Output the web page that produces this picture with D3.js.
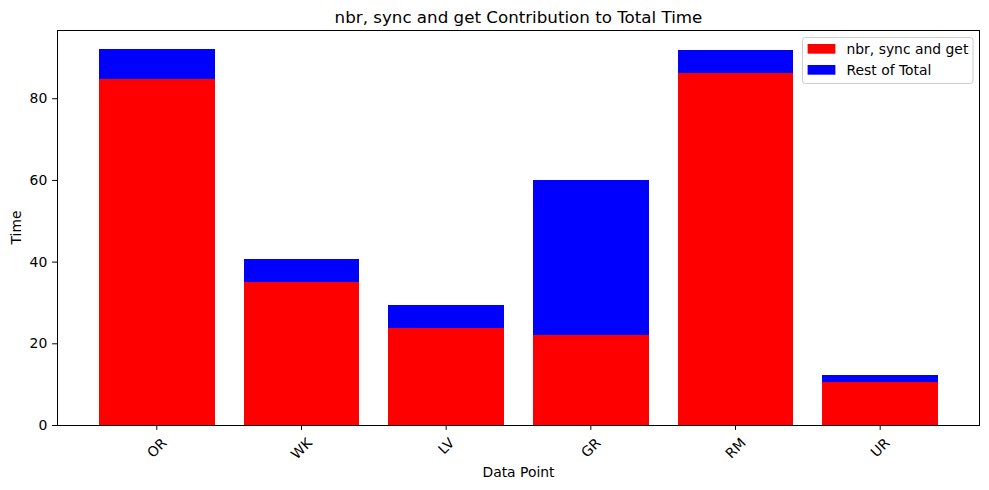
<!DOCTYPE html>
<html>
<head>
<meta charset="utf-8">
<script src="https://cdn.jsdelivr.net/npm/d3@7"></script>
<style>
  html, body { margin: 0; padding: 0; background: #fff; }
  svg { display: block; }
  text { font-family: "DejaVu Sans", sans-serif; fill: #000; }
</style>
</head>
<body>
<svg id="chart" width="989" height="490"></svg>
<script>
const categories = ["OR", "WK", "LV", "GR", "RM", "UR"];
const nbrSyncGet = [84.8, 35.0, 23.7, 22.0, 86.1, 10.6];
const restOfTotal = [7.3, 5.6, 5.7, 38.1, 5.7, 1.6];
const yTicks = [0, 20, 40, 60, 80];
const seriesNames = ["nbr, sync and get", "Rest of Total"];
const seriesColors = ["#ff0000", "#0000ff"];

const W = 989, H = 490;
const m = { left: 57, right: 980, top: 30, bottom: 425 };
const fs = 13.9;
const svg = d3.select("#chart");

const rows = categories.map((c, i) => ({ cat: c, a: nbrSyncGet[i], b: restOfTotal[i] }));
const stacked = d3.stack().keys(["a", "b"])(rows);
const maxTotal = d3.max(rows, d => d.a + d.b);

const x = d3.scaleBand().domain(categories).range([m.left, m.right])
  .paddingInner(0.2).paddingOuter(0.29);
const y = d3.scaleLinear().domain([0, maxTotal * 1.05]).range([m.bottom, m.top]);

// bars
stacked.forEach((s, si) => {
  svg.append("g").attr("fill", seriesColors[si])
    .selectAll("rect").data(s).join("rect")
    .attr("x", d => x(d.data.cat))
    .attr("width", x.bandwidth())
    .attr("y", d => y(d[1]))
    .attr("height", d => y(d[0]) - y(d[1]))
    .attr("shape-rendering", "crispEdges");
});

// axes
const tick = 4.86, pad = 4.86;
const yAxis = svg.append("g").attr("transform", `translate(${m.left},0)`)
  .call(d3.axisLeft(y).tickValues(yTicks).tickSize(tick).tickPadding(pad).tickFormat(d3.format("d")));
yAxis.select(".domain").remove();
yAxis.selectAll("line").attr("stroke", "#000").attr("stroke-width", 1);
yAxis.selectAll("text").attr("font-size", fs).attr("font-family", "DejaVu Sans").attr("fill", "#000");

const xAxis = svg.append("g").attr("transform", `translate(0,${m.bottom})`)
  .call(d3.axisBottom(x).tickSize(tick).tickFormat(""));
xAxis.select(".domain").remove();
xAxis.selectAll("line").attr("stroke", "#000").attr("stroke-width", 1);

// rotated x tick labels
const tmp = svg.append("text").attr("font-size", fs);
categories.forEach(c => {
  tmp.text(c);
  const w = tmp.node().getComputedTextLength();
  const h = fs * 1.165;
  const half = (w + h) * Math.SQRT1_2 / 2;
  const cx = x(c) + x.bandwidth() / 2;
  const cy = m.bottom + tick + pad + half;
  svg.append("text")
    .attr("transform", `translate(${cx},${cy}) rotate(-45)`)
    .attr("text-anchor", "middle")
    .attr("dy", "0.35em")
    .attr("font-size", fs)
    .text(c);
});
tmp.remove();

// spines
svg.append("rect")
  .attr("x", m.left + 0.5).attr("y", m.top + 0.5)
  .attr("width", m.right - m.left - 1).attr("height", m.bottom - m.top)
  .attr("fill", "none").attr("stroke", "#000").attr("stroke-width", 1);

// title and labels
svg.append("text").attr("x", (m.left + m.right) / 2).attr("y", 23)
  .attr("text-anchor", "middle").attr("font-size", 16.7)
  .text("nbr, sync and get Contribution to Total Time");
svg.append("text").attr("x", (m.left + m.right) / 2).attr("y", 477)
  .attr("text-anchor", "middle").attr("font-size", fs).text("Data Point");
svg.append("text")
  .attr("transform", `translate(20.7,${(m.top + m.bottom) / 2}) rotate(-90)`)
  .attr("text-anchor", "middle").attr("font-size", fs).text("Time");

// legend
const lg = svg.append("g");
lg.append("rect").attr("x", 802.5).attr("y", 37.5).attr("width", 170.5).attr("height", 46)
  .attr("rx", 2.8).attr("fill", "#fff").attr("fill-opacity", 0.8)
  .attr("stroke", "#cccccc").attr("stroke-width", 1);
seriesNames.forEach((n, i) => {
  const yy = 44 + i * 21;
  lg.append("rect").attr("x", 807.6).attr("y", yy).attr("width", 27.8).attr("height", 9.7)
    .attr("fill", seriesColors[i]);
  lg.append("text").attr("x", 846.5).attr("y", yy + 10).attr("font-size", fs).text(n);
});
</script>
</body>
</html>
